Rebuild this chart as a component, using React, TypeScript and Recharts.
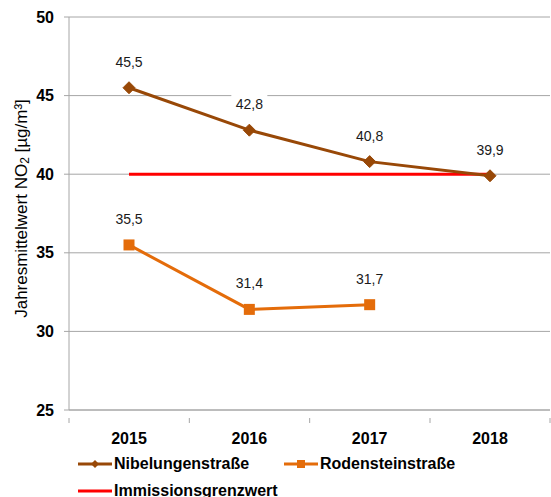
import { LineChart, Line, XAxis, YAxis, CartesianGrid, Legend, LabelList } from 'recharts';

const years = ['2015', '2016', '2017', '2018'];
const nibelungen = [45.5, 42.8, 40.8, 39.9];
const rodenstein: (number | null)[] = [35.5, 31.4, 31.7, null];
const grenzwert = [40, 40, 40, 40];
const yTicks = [25, 30, 35, 40, 45, 50];

const data = years.map((year, i) => ({
  year,
  nibelungen: nibelungen[i],
  rodenstein: rodenstein[i],
  grenzwert: grenzwert[i],
}));

const BROWN = '#984807';
const ORANGE = '#E46C0A';
const RED = '#FF0000';
const GRID = '#A6A6A6';
const FONT = 'Arial, "Liberation Sans", sans-serif';

function DiamondDot(props: any) {
  const { cx, cy } = props;
  if (cx == null || cy == null) return null;
  const r = 6;
  return (
    <path
      d={`M${cx},${cy - r} L${cx + r},${cy} L${cx},${cy + r} L${cx - r},${cy} Z`}
      fill={BROWN}
      stroke={BROWN}
    />
  );
}

function SquareDot(props: any) {
  const { cx, cy } = props;
  if (cx == null || cy == null) return null;
  return <rect x={cx - 5.5} y={cy - 5.5} width={11} height={11} fill={ORANGE} />;
}

function ValueLabel(props: any) {
  const { x, y, value } = props;
  if (value == null) return null;
  const text = String(value).replace('.', ',');
  return (
    <g>
      <rect x={x - 18} y={y - 38} width={36} height={24} fill="#fff" />
      <text x={x} y={y - 21} textAnchor="middle" fontSize={14} fontFamily={FONT} fill="#1a1a1a">
        {text}
      </text>
    </g>
  );
}

function XTick(props: any) {
  const { x, y, payload, index } = props;
  return (
    <g>
      <line x1={x - 60} y1={y} x2={x - 60} y2={y + 5} stroke={GRID} />
      {index === years.length - 1 && <line x1={x + 60} y1={y} x2={x + 60} y2={y + 5} stroke={GRID} />}
      <text x={x} y={y + 26} textAnchor="middle" fontSize={16} fontWeight="bold" fontFamily={FONT} fill="#000">
        {payload.value}
      </text>
    </g>
  );
}

function YTitle(props: any) {
  const { viewBox } = props;
  const cx = 21;
  const cy = viewBox.y + viewBox.height / 2 - 5;
  return (
    <text
      x={cx}
      y={cy}
      transform={`rotate(-90, ${cx}, ${cy})`}
      textAnchor="middle"
      dominantBaseline="central"
      fontSize={17}
      fontFamily={FONT}
      fill="#000"
    >
      Jahresmittelwert NO
      <tspan fontSize={12} dy={4}>2</tspan>
      <tspan dy={-4}> [µg/m³]</tspan>
    </text>
  );
}

const legendItems = [
  { name: 'Nibelungenstraße', color: BROWN, marker: 'diamond' },
  { name: 'Rodensteinstraße', color: ORANGE, marker: 'square' },
  { name: 'Immissionsgrenzwert', color: RED, marker: 'none' },
];

function LegendIcon({ color, marker }: { color: string; marker: string }) {
  return (
    <svg width={34} height={10} style={{ marginRight: 2 }}>
      <line x1={0} y1={5} x2={34} y2={5} stroke={color} strokeWidth={3} />
      {marker === 'diamond' && <path d="M17,1 L21,5 L17,9 L13,5 Z" fill={color} />}
      {marker === 'square' && <rect x={13} y={1} width={8} height={8} fill={color} />}
    </svg>
  );
}

function renderLegend() {
  return (
    <div style={{ display: 'flex', flexWrap: 'wrap', width: 460, paddingLeft: 78, fontFamily: FONT, fontWeight: 'bold', fontSize: 16, color: '#000' }}>
      {legendItems.map((item) => (
        <div key={item.name} style={{ display: 'flex', alignItems: 'center', width: 206, height: 27, whiteSpace: 'nowrap' }}>
          <LegendIcon color={item.color} marker={item.marker} />
          <span>{item.name}</span>
        </div>
      ))}
    </div>
  );
}

function YTitleWrap(props: any) {
  return <YTitle {...props} />;
}

export default function App() {
  return (
    <div style={{ position: 'absolute', left: 0, top: 0, background: '#fff' }}>
      <LineChart width={551} height={497} data={data} margin={{ top: 17, right: 1, left: 0, bottom: 0 }}>
        <CartesianGrid vertical={false} stroke={GRID} />
        <XAxis
          dataKey="year"
          padding={{ left: 60, right: 60 }}
          height={35}
          stroke={GRID}
          tickLine={false}
          tick={<XTick />}
          interval={0}
        />
        <YAxis
          domain={[25, 50]}
          ticks={yTicks}
          width={69}
          stroke={GRID}
          tickSize={5}
          tickMargin={10}
          tick={{ fill: '#000', fontSize: 16, fontWeight: 'bold', fontFamily: FONT }}
          label={<YTitleWrap />}
        />
        <Legend verticalAlign="bottom" align="left" height={52} content={renderLegend} wrapperStyle={{ left: 0, top: 450 }} />
        <Line
          dataKey="grenzwert"
          stroke={RED}
          strokeWidth={3}
          dot={false}
          activeDot={false}
          isAnimationActive={false}
        />
        <Line
          dataKey="nibelungen"
          stroke={BROWN}
          strokeWidth={3}
          dot={<DiamondDot />}
          activeDot={false}
          isAnimationActive={false}
        >
          <LabelList dataKey="nibelungen" content={<ValueLabel />} />
        </Line>
        <Line
          dataKey="rodenstein"
          stroke={ORANGE}
          strokeWidth={3}
          dot={<SquareDot />}
          activeDot={false}
          isAnimationActive={false}
        >
          <LabelList dataKey="rodenstein" content={<ValueLabel />} />
        </Line>
      </LineChart>
    </div>
  );
}
